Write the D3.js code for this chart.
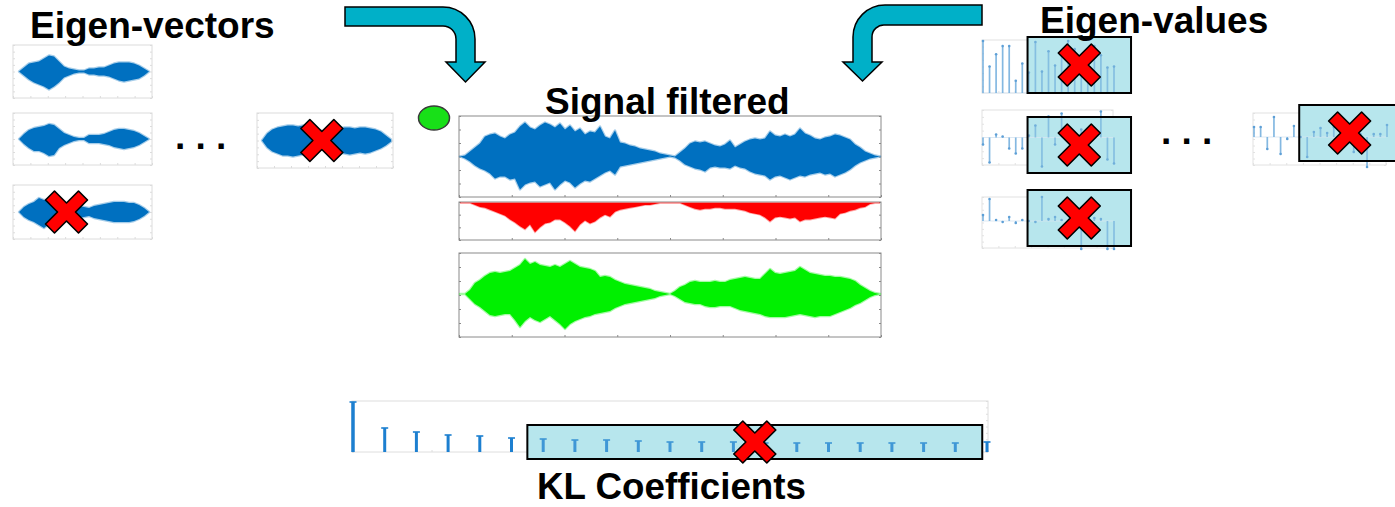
<!DOCTYPE html>
<html>
<head>
<meta charset="utf-8">
<script src="https://cdn.jsdelivr.net/npm/d3@7"></script>
<style>
  body { margin: 0; background: #fff; }
  svg { display: block; }
  .title { font-family: "Liberation Sans", Arial, sans-serif; font-weight: bold; font-size: 37px; fill: #000; }
</style>
</head>
<body>
<svg id="chart" width="1395" height="507"></svg>
<script>
// ---- data (amplitudes in panel units) ----

// main signal, upper / lower envelope, 85 samples
const signalTop = [
  0, 1, 5, 9, 13, 20, 22, 23, 20, 18,
  22, 24, 30, 34, 29, 27, 31, 34, 32, 29,
  33, 27, 31, 25, 28, 22, 25, 24, 30, 20,
  18, 26, 14, 13, 11, 10, 8, 7, 6, 5,
  3, 2, 1, 0, 4, 8, 13, 15, 14, 15,
  13, 11, 10, 12, 16, 9, 12, 15, 17, 18,
  17, 18, 25, 21, 20, 22, 20, 22, 28, 23,
  21, 18, 17, 19, 20, 22, 21, 19, 17, 12,
  9, 5, 3, 1, 0
];
const signalBottom = [
  0, 2, 5, 9, 12, 14, 17, 22, 20, 20,
  23, 22, 33, 28, 26, 25, 30, 28, 26, 33,
  28, 24, 26, 31, 27, 24, 25, 22, 19, 16,
  14, 18, 10, 9, 8, 7, 6, 5, 4, 3,
  2, 1, 0, 1, 4, 8, 10, 12, 13, 15,
  11, 10, 11, 11, 12, 9, 11, 12, 15, 17,
  18, 19, 23, 20, 19, 21, 23, 21, 19, 20,
  18, 17, 16, 18, 17, 20, 18, 16, 13, 9,
  6, 4, 2, 1, 0
];
// part removed by the filter (hangs down from zero)
const removedPart = [
  0, 0, 0, 2, 4, 5, 7, 9, 11, 13,
  17, 20, 24, 27, 22, 30, 25, 21, 20, 17,
  17, 20, 24, 29, 22, 18, 21, 19, 15, 12,
  14, 9, 7, 6, 5, 4, 3, 2, 2, 1,
  0, 0, 0, 0, 0, 2, 4, 6, 7, 6,
  6, 5, 5, 6, 6, 6, 7, 8, 10, 11,
  12, 15, 19, 15, 14, 15, 16, 15, 19, 17,
  17, 16, 15, 14, 15, 16, 11, 10, 8, 7,
  5, 4, 1, 0, 0
];
// filtered signal
const filteredTop = [
  0, 0, 4, 11, 14, 18, 21, 22, 21, 22,
  23, 26, 29, 35, 30, 32, 29, 28, 27, 29,
  27, 30, 33, 30, 27, 26, 25, 23, 17, 18,
  17, 14, 12, 10, 9, 8, 7, 6, 5, 3,
  2, 1, 0, 3, 7, 9, 12, 13, 12, 12,
  12, 13, 12, 12, 14, 15, 16, 17, 16, 15,
  15, 20, 25, 21, 20, 21, 22, 23, 27, 24,
  21, 20, 19, 18, 18, 17, 17, 16, 15, 13,
  9, 6, 3, 1, 0
];
const filteredBottom = [
  0, 0, 5, 10, 13, 17, 21, 22, 21, 20,
  20, 26, 33, 27, 23, 26, 28, 25, 22, 26,
  30, 35, 30, 27, 25, 23, 22, 20, 19, 18,
  17, 14, 12, 10, 9, 8, 7, 6, 5, 4,
  2, 1, 0, 2, 5, 8, 9, 10, 10, 12,
  13, 13, 12, 12, 12, 14, 16, 17, 18, 19,
  20, 22, 23, 23, 23, 23, 22, 21, 20, 21,
  22, 23, 22, 22, 22, 20, 18, 16, 14, 11,
  9, 6, 3, 1, 0
];

// eigen-vector thumbnails
const eigvec1Top = [0, 4, 8, 9, 10, 13, 16, 15, 10, 5, 3, 2, 1, 1, 3, 3, 4, 4, 6, 8, 9, 9, 9, 8, 6, 3, 0];
const eigvec1Bottom = [0, 4, 8, 11, 13, 15, 18, 15, 11, 6, 4, 2, 1, 1, 3, 3, 4, 4, 5, 7, 9, 10, 9, 8, 7, 4, 0];
const eigvec2Top = [0, 5, 9, 11, 12, 13, 15, 14, 10, 6, 4, 2, 1, 1, 4, 4, 4, 5, 7, 9, 10, 10, 9, 8, 6, 3, 0];
const eigvec2Bottom = [0, 5, 9, 12, 12, 14, 17, 16, 9, 6, 4, 2, 1, 1, 4, 4, 4, 5, 6, 8, 9, 10, 9, 8, 6, 3, 0];
const eigvec3Top = [0, 5, 8, 10, 14, 12, 12, 11, 10, 9, 8, 7, 6, 5, 4, 6, 7, 8, 9, 10, 10, 10, 9, 9, 7, 4, 0];
const eigvec3Bottom = [0, 5, 8, 10, 13, 16, 12, 11, 10, 9, 8, 7, 6, 5, 4, 6, 7, 8, 9, 10, 10, 10, 10, 9, 7, 4, 0];
const eigvecLastTop = [0, 7, 11, 13, 14, 15, 15, 14, 15, 14, 13, 11, 9, 9, 10, 12, 13, 13, 12, 13, 13, 12, 11, 9, 5, 1];
const eigvecLastBottom = [0, 7, 11, 13, 15, 15, 16, 15, 14, 14, 12, 10, 8, 9, 10, 12, 13, 14, 13, 12, 13, 12, 10, 8, 5, 1];

// eigen-value stem plots (21 stems each)
const eigval1 = [51, 26, 38, 46, 46, 12, 29, 20, 50, 21, 41, 27, 38, 51, 43, 23, 33, 46, 37, 25, 26];
const eigval2 = [-7, -25, 3, 1, -11, -16, -11, 2, 12, -29, 21, -7, 24, 4, -8, 8, 5, 9, 26, -22, -26];
const eigval3 = [6, 22, 1, -1, 4, -2, 1, 0, -1, 24, 2, 4, 1, 0, -3, -28, 2, 3, 2, -28, -28];
const eigvalLast = [10, 10, -12, 20, -17, -2, 11, 0, -20, 5, 9, 4, 10, 17, 5, -15, 3, -30, 3, 3, 12];

// KL coefficients (21 stems)
const klCoeffs = [50, 24, 20, 17, 16, 14, 13, 12, 12, 11, 10, 10, 10, 9, 9, 9, 9, 9, 9, 9, 10];

// discarded ranges (stem index)
const eigvalCut = [6.8, 22.6];
const klCut = [5.5, 19.85];

// ---- drawing ----
const svg = d3.select("#chart");
const BLUE = "#0070c0";

function frame(g, f, color, ticks) {
  const [x0, y0, x1, y1] = f;
  g.append("rect")
    .attr("x", x0).attr("y", y0)
    .attr("width", x1 - x0).attr("height", y1 - y0)
    .attr("fill", "none").attr("stroke", color).attr("stroke-width", 1);
  const ys = d3.scaleLinear().domain([0, ticks]).range([y1, y0]);
  const xs = d3.scaleLinear().domain([0, 8]).range([x0, x1]);
  g.append("g").attr("transform", "translate(" + x0 + ",0)").attr("color", color)
    .call(d3.axisLeft(ys).ticks(ticks).tickSize(-2).tickSizeOuter(0).tickFormat(""))
    .select(".domain").remove();
  g.append("g").attr("transform", "translate(" + x1 + ",0)").attr("color", color)
    .call(d3.axisRight(ys).ticks(ticks).tickSize(-2).tickSizeOuter(0).tickFormat(""))
    .select(".domain").remove();
  g.append("g").attr("transform", "translate(0," + y1 + ")").attr("color", color)
    .call(d3.axisBottom(xs).ticks(8).tickSize(-2).tickSizeOuter(0).tickFormat(""))
    .select(".domain").remove();
}

function wave(g, top, bottom, xRange, yScale, color) {
  const x = d3.scaleLinear().domain([0, top.length - 1]).range(xRange);
  const area = d3.area()
    .x((d, i) => x(i))
    .y0((d, i) => yScale(-bottom[i]))
    .y1((d) => yScale(d));
  g.append("path").datum(top)
    .attr("d", area)
    .attr("fill", color)
    .attr("stroke", color)
    .attr("stroke-opacity", 0.35)
    .attr("stroke-width", 2.4)
    .attr("stroke-linejoin", "round");
  return x;
}

function cross(g, cx, cy) {
  const s = 21, w = 9;
  const pts = [[-s + w, -s], [0, -w], [s - w, -s], [s, -s + w], [w, 0], [s, s - w],
    [s - w, s], [0, w], [-s + w, s], [-s, s - w], [-w, 0], [-s, -s + w]];
  g.append("polygon")
    .attr("points", pts.map((p) => (cx + p[0]) + "," + (cy + p[1])).join(" "))
    .attr("fill", "#ff0000")
    .attr("stroke", "#000")
    .attr("stroke-width", 1.6)
    .attr("stroke-linejoin", "round");
}

// box fill goes under the stems, its outline over them
function boxFill(g, x0, x1, y0, y1) {
  g.append("rect")
    .attr("x", x0).attr("y", y0)
    .attr("width", x1 - x0).attr("height", y1 - y0)
    .attr("fill", "#bde8ef");
}
function boxLine(g, x0, x1, y0, y1) {
  g.append("rect")
    .attr("x", x0).attr("y", y0)
    .attr("width", x1 - x0).attr("height", y1 - y0)
    .attr("fill", "#a8dfe9").attr("fill-opacity", 0.25)
    .attr("stroke", "#000").attr("stroke-width", 2);
}

// ARROWS
const arrows = svg.append("g").attr("fill", "#00b0c8").attr("stroke", "#000").attr("stroke-width", 1.5);
arrows.append("path")
  .attr("d", "M345,7 H443 A32,32 0 0 1 475,39 V62 H485 L465.5,82 L446,62 H456 V39 A13,13 0 0 0 443,26 H345 Z");
arrows.append("path")
  .attr("d", "M982,5 H885 A32,32 0 0 0 853,37 V62 H843 L862.5,81 L882,62 H872 V37 A12,12 0 0 1 885,25 H982 Z");

// EIGEN-VECTOR THUMBNAILS
const thumbs = [
  { top: eigvec1Top, bottom: eigvec1Bottom, frame: [13, 45, 152, 98], wave: [19, 149] },
  { top: eigvec2Top, bottom: eigvec2Bottom, frame: [13, 113, 152, 165], wave: [19, 149] },
  { top: eigvec3Top, bottom: eigvec3Bottom, frame: [13, 185, 152, 239], wave: [19, 149], cross: 9.5 },
  { top: eigvecLastTop, bottom: eigvecLastBottom, frame: [257, 113, 393, 168], wave: [262, 391], cross: 11.6 }
];
const thumbG = svg.append("g");
thumbs.forEach((t) => {
  frame(thumbG, t.frame, "#dcdcdc", 8);
  const mid = (t.frame[1] + t.frame[3]) / 2;
  const y = d3.scaleLinear().domain([-26, 26]).range([mid + 26, mid - 26]);
  const x = wave(thumbG, t.top, t.bottom, t.wave, y, BLUE);
  if (t.cross !== undefined) cross(thumbG, x(t.cross), mid);
});
svg.append("text").attr("class", "title").attr("x", 175).attr("y", 149).text(". . .");

// MAIN SIGNAL PANELS
const mainG = svg.append("g");
const pBlue = [459, 116, 881, 197];
const pRed = [459, 202, 881, 240];
const pGreen = [459, 253, 881, 337];
const waveX = [460, 880];

frame(mainG, pBlue, "#8a8a8a", 6);
const yBlue = d3.scaleLinear().domain([-40.5, 40.5]).range([pBlue[3], pBlue[1]]);
wave(mainG, signalTop, signalBottom, waveX, yBlue, BLUE);

frame(mainG, pRed, "#8a8a8a", 3);
const yRed = d3.scaleLinear().domain([-38, 0]).range([pRed[3], pRed[1] + 1]);
const xRed = d3.scaleLinear().domain([0, removedPart.length - 1]).range(waveX);
mainG.append("path").datum(removedPart)
  .attr("d", d3.area().x((d, i) => xRed(i)).y0(yRed(0)).y1((d) => yRed(-d)))
  .attr("fill", "#ff0000").attr("stroke", "#ff0000")
  .attr("stroke-opacity", 0.35).attr("stroke-width", 1.8);

frame(mainG, pGreen, "#8a8a8a", 6);
const yGreen = d3.scaleLinear().domain([-41, 41]).range([pGreen[3] - 2, pGreen[1]]);
wave(mainG, filteredTop, filteredBottom, waveX, yGreen, "#00f000");

mainG.append("ellipse")
  .attr("cx", 434).attr("cy", 118).attr("rx", 15.5).attr("ry", 12)
  .attr("fill", "#18e018").attr("stroke", "#3a3a3a").attr("stroke-width", 1.5);

// EIGEN-VALUE STEM PLOTS
const evPanels = [
  { values: eigval1, frame: [982, 40, 1113, 93], yDomain: [0, 52], box: [37, 93] },
  { values: eigval2, frame: [982, 110, 1113, 165], yDomain: [-27.5, 27.5], box: [117, 173] },
  { values: eigval3, frame: [982, 197, 1113, 248], yDomain: [-27, 24], box: [190, 246] },
  { values: eigvalLast, frame: [1253, 113, 1386, 165], yDomain: [-28, 24], box: [105, 161] }
];
const evG = svg.append("g");
evPanels.forEach((p) => {
  const [x0, y0, x1, y1] = p.frame;
  frame(evG, p.frame, "#e2e2e2", 8);
  const x = d3.scaleLinear().domain([0, p.values.length - 1]).range([x0 + 1, x1 + 1]);
  const y = d3.scaleLinear().domain(p.yDomain).range([y1, y0]);
  const zero = y(Math.max(0, p.yDomain[0]));
  const bx0 = x(eigvalCut[0]), bx1 = x(eigvalCut[1]);
  boxFill(evG, bx0, bx1, p.box[0], p.box[1]);
  evG.append("line")
    .attr("x1", x0).attr("x2", x1).attr("y1", zero).attr("y2", zero)
    .attr("stroke", "#dde9f4").attr("stroke-width", 1);
  const stems = evG.append("g").selectAll("g").data(p.values).enter().append("g");
  stems.append("line")
    .attr("x1", (d, i) => x(i)).attr("x2", (d, i) => x(i))
    .attr("y1", zero).attr("y2", (d) => y(d))
    .attr("stroke", "#6fabdc").attr("stroke-width", 1.7).attr("stroke-opacity", 0.85);
  stems.append("circle")
    .attr("cx", (d, i) => x(i)).attr("cy", (d) => y(d)).attr("r", 1.3)
    .attr("fill", "#5d9fd6");
  boxLine(evG, bx0, bx1, p.box[0], p.box[1]);
  cross(evG, (bx0 + Math.min(bx1, 1400)) / 2, (p.box[0] + p.box[1]) / 2);
});
svg.append("text").attr("class", "title").attr("x", 1161).attr("y", 144).text(". . .");

// KL COEFFICIENTS
const klFrame = [352, 401, 988, 452];
const klG = svg.append("g");
frame(klG, klFrame, "#dedede", 8);
const xKl = d3.scaleLinear().domain([0, klCoeffs.length - 1]).range([353, 987]);
const yKl = d3.scaleLinear().domain([0, 50]).range([klFrame[3], klFrame[1] + 1]);
const kbx0 = xKl(klCut[0]), kbx1 = xKl(klCut[1]);
boxFill(klG, kbx0, kbx1, 425, 459);
const klStems = klG.append("g").selectAll("g").data(klCoeffs).enter().append("g");
klStems.append("line")
  .attr("x1", (d, i) => xKl(i)).attr("x2", (d, i) => xKl(i))
  .attr("y1", yKl(0)).attr("y2", (d) => yKl(d))
  .attr("stroke", "#1c7fd0").attr("stroke-width", (d, i) => (i === 0 ? 3.5 : 3));
klStems.append("line")
  .attr("x1", (d, i) => xKl(i) - 3.5).attr("x2", (d, i) => xKl(i) + 3.5)
  .attr("y1", (d) => yKl(d)).attr("y2", (d) => yKl(d))
  .attr("stroke", "#1c7fd0").attr("stroke-width", 1.6);
boxLine(klG, kbx0, kbx1, 425, 459);
cross(klG, (kbx0 + kbx1) / 2, 442);

// TITLES
svg.append("text").attr("class", "title").attr("x", 30).attr("y", 38).text("Eigen-vectors");
svg.append("text").attr("class", "title").attr("x", 1040).attr("y", 33).text("Eigen-values");
svg.append("text").attr("class", "title").attr("x", 545).attr("y", 114).text("Signal filtered");
svg.append("text").attr("class", "title").attr("x", 537).attr("y", 499)
  .style("font-size", "36px")
  .attr("textLength", 269).attr("lengthAdjust", "spacingAndGlyphs")
  .text("KL Coefficients");
</script>
</body>
</html>
